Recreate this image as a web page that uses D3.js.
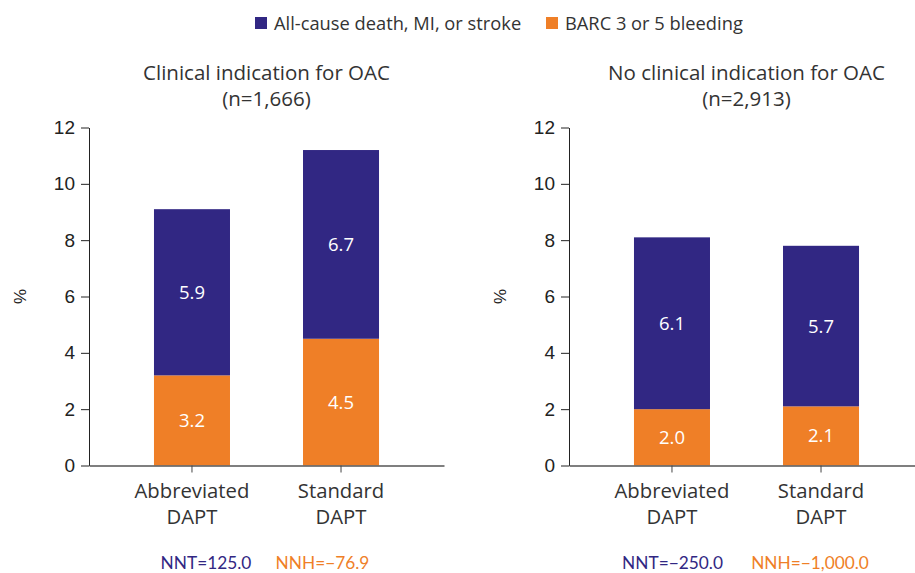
<!DOCTYPE html>
<html>
<head>
<meta charset="utf-8">
<script src="https://cdn.jsdelivr.net/npm/d3@7"></script>
<style>
  body { margin: 0; background: #fff; }
  svg text { fill: #333; }
</style>
</head>
<body>
<div id="chart"></div>
<script>
// data
const categories = ["Abbreviated DAPT", "Standard DAPT"];
const seriesNames = ["All-cause death, MI, or stroke", "BARC 3 or 5 bleeding"];
const panelTitles = ["Clinical indication for OAC", "No clinical indication for OAC"];
const panelN = ["(n=1,666)", "(n=2,913)"];
const bleeding = [[3.2, 4.5], [2.0, 2.1]];
const ischemic = [[5.9, 6.7], [6.1, 5.7]];
const nntLabels = ["NNT=125.0", "NNT=\u2212250.0"];
const nnhLabels = ["NNH=\u221276.9", "NNH=\u22121,000.0"];
const yTicks = [0, 2, 4, 6, 8, 10, 12];

const W = 915, H = 573;
const navy = "#312783", orange = "#ef7f27";
const sans = "'Open Sans', 'Noto Sans', sans-serif";

const svg = d3.select("#chart").append("svg")
    .attr("width", W)
    .attr("height", H);

// legend
const legend = [{x: 255, name: seriesNames[0], c: navy}, {x: 546, name: seriesNames[1], c: orange}];
legend.forEach(function (l) {
    svg.append("rect").attr("x", l.x).attr("y", 17).attr("width", 12).attr("height", 12).attr("fill", l.c);
    svg.append("text").attr("x", l.x + 19).attr("y", 29.5)
        .attr("font-family", sans).attr("font-size", 18.3)
        .text(l.name);
});

const y = d3.scaleLinear().domain([0, 12]).range([465.5, 127.5]);
const panelLeft = [89, 569];
const panelW = 355;

panelLeft.forEach(function (left, p) {
    const g = svg.append("g").attr("transform", "translate(" + left + ",0)");

    const x = d3.scaleBand()
        .domain(categories)
        .range([0, panelW])
        .paddingInner(0.49)
        .paddingOuter(0.436);

    // titles
    g.append("text").attr("x", panelW / 2).attr("y", 79.5)
        .attr("text-anchor", "middle").attr("font-family", sans).attr("font-size", 20.5)
        .text(panelTitles[p]);
    g.append("text").attr("x", panelW / 2).attr("y", 105.5)
        .attr("text-anchor", "middle").attr("font-family", sans).attr("font-size", 20.5)
        .text(panelN[p]);

    // bars
    categories.forEach(function (c, i) {
        const b = bleeding[p][i], s = ischemic[p][i];
        g.append("rect").attr("x", x(c)).attr("width", x.bandwidth())
            .attr("y", y(b)).attr("height", y(0) - y(b)).attr("fill", orange);
        g.append("rect").attr("x", x(c)).attr("width", x.bandwidth())
            .attr("y", y(b + s)).attr("height", y(b) - y(b + s)).attr("fill", navy);
        g.append("text").attr("x", x(c) + x.bandwidth() / 2).attr("y", y(b / 2) + 6.5)
            .attr("text-anchor", "middle").attr("font-family", sans).attr("font-size", 18.5)
            .style("fill", "#fff").text(b.toFixed(1));
        g.append("text").attr("x", x(c) + x.bandwidth() / 2).attr("y", y(b + s / 2) + 6.5)
            .attr("text-anchor", "middle").attr("font-family", sans).attr("font-size", 18.5)
            .style("fill", "#fff").text(s.toFixed(1));
    });

    // y axis
    const yAxis = d3.axisLeft(y).tickValues(yTicks).tickSize(8).tickSizeOuter(0).tickPadding(6);
    const ya = g.append("g").call(yAxis);
    ya.select(".domain").attr("stroke", "#222");
    ya.selectAll(".tick line").attr("stroke", "#222");
    ya.selectAll(".tick text").attr("font-family", "'Liberation Sans', Arial, sans-serif")
        .attr("font-size", 19).style("fill", "#222");

    // x axis
    const xAxis = d3.axisBottom(x).tickSize(7).tickSizeOuter(0).tickFormat("");
    const xa = g.append("g").attr("transform", "translate(0," + y(0) + ")").call(xAxis);
    xa.select(".domain").attr("stroke", "#555").attr("stroke-width", 1.3);
    xa.selectAll(".tick line").attr("stroke", "#444");
    categories.forEach(function (c) {
        const words = c.split(" ");
        const t = g.append("text").attr("x", x(c) + x.bandwidth() / 2).attr("y", 498)
            .attr("text-anchor", "middle").attr("font-family", sans).attr("font-size", 20.3);
        t.append("tspan").attr("x", x(c) + x.bandwidth() / 2).text(words[0]);
        t.append("tspan").attr("x", x(c) + x.bandwidth() / 2).attr("dy", 25.5).text(words[1]);
    });

    // y label
    g.append("text")
        .attr("transform", "translate(-63," + y(6) + ") rotate(-90)")
        .attr("text-anchor", "middle").attr("font-family", "'Liberation Sans', Arial, sans-serif")
        .attr("font-size", 17).style("fill", "#222")
        .text("%");

    // NNT / NNH
    g.append("text").attr("x", p === 0 ? 206 - left : 672.5 - left).attr("y", 569)
        .attr("text-anchor", "middle").attr("font-family", "Lato, 'Noto Sans', sans-serif").attr("font-size", 17.3)
        .style("fill", navy).text(nntLabels[p]);
    g.append("text").attr("x", p === 0 ? 322.5 - left : 810 - left).attr("y", 569)
        .attr("text-anchor", "middle").attr("font-family", "Lato, 'Noto Sans', sans-serif").attr("font-size", 17.3)
        .style("fill", orange).text(nnhLabels[p]);
});
</script>
</body>
</html>
